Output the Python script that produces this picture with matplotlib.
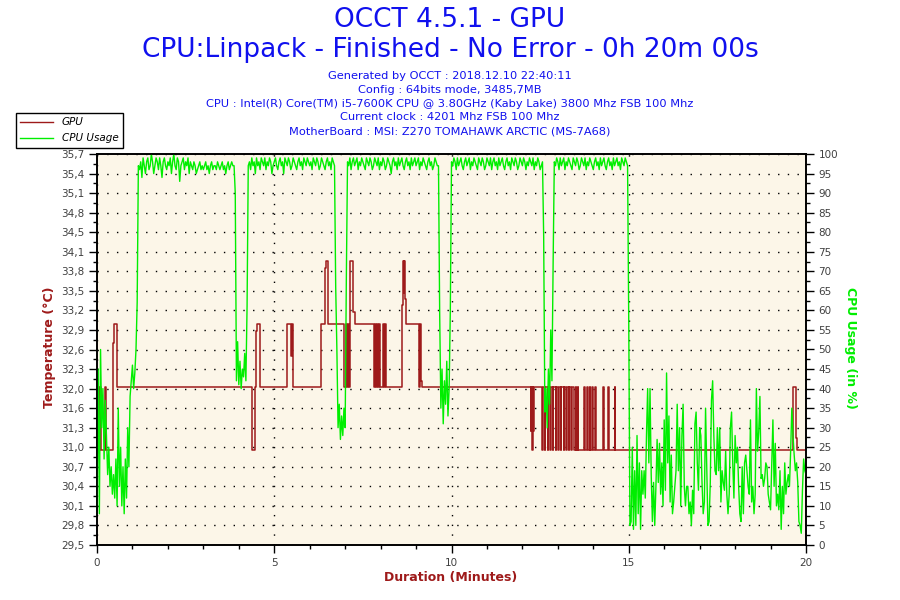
import numpy as np
import matplotlib.pyplot as plt
from matplotlib.ticker import FixedLocator, MultipleLocator
from matplotlib.lines import Line2D

# sondas do OCCT: GPU (temperatura) e uso da CPU, 20 minutos
title_main = "OCCT 4.5.1 - GPU"
title_sub = "CPU:Linpack - Finished - No Error - 0h 20m 00s"
info_lines = [
    "Generated by OCCT : 2018.12.10 22:40:11",
    "Config : 64bits mode, 3485,7MB",
    "CPU : Intel(R) Core(TM) i5-7600K CPU @ 3.80GHz (Kaby Lake) 3800 Mhz FSB 100 Mhz",
    "Current clock : 4201 Mhz FSB 100 Mhz",
    "MotherBoard : MSI: Z270 TOMAHAWK ARCTIC (MS-7A68)",
]

x_ticks = [0, 5, 10, 15, 20]
temp_labels = ["29,5", "29,8", "30,1", "30,4", "30,7", "31,0", "31,3", "31,6", "32,0", "32,3",
               "32,6", "32,9", "33,2", "33,5", "33,8", "34,1", "34,5", "34,8", "35,1", "35,4", "35,7"]
usage_ticks = list(range(0, 101, 5))

# temperatura da GPU: (minuto, valor) a cada mudanca de patamar
gpu_changes = [
    (0.00, 32), (0.05, 31), (0.08, 32), (0.10, 31), (0.22, 32), (0.25, 31),
    (0.44, 32.7), (0.49, 33), (0.56, 32),
    (4.38, 31), (4.45, 32), (4.48, 32.9), (4.50, 33), (4.60, 32),
    (5.37, 33), (5.47, 32.5), (5.50, 33), (5.53, 32),
    (6.33, 33), (6.42, 33.9), (6.45, 34), (6.51, 33.5), (6.53, 33),
    (6.98, 32), (7.02, 33), (7.05, 32), (7.09, 33), (7.11, 32), (7.14, 34), (7.23, 33.2), (7.27, 33),
    (7.80, 32), (7.83, 33), (7.86, 32), (7.89, 33), (7.92, 32), (7.95, 33), (7.98, 32),
    (8.08, 33), (8.11, 32), (8.13, 33), (8.15, 32),
    (8.61, 33.3), (8.64, 34), (8.66, 33.5), (8.67, 34), (8.69, 33.4), (8.72, 33),
    (9.07, 32), (9.10, 33), (9.13, 32.1), (9.16, 32),
    (12.23, 31.3), (12.25, 32), (12.27, 31), (12.29, 32), (12.31, 31.3), (12.33, 32),
    (12.56, 31), (12.575, 32), (12.635, 31), (12.65, 32), (12.71, 31), (12.725, 32),
    (12.785, 31), (12.80, 32), (12.86, 31), (12.875, 32), (12.935, 31), (12.95, 32),
    (13.01, 31), (13.025, 32), (13.085, 31), (13.10, 32), (13.16, 31), (13.175, 32),
    (13.235, 31), (13.25, 32), (13.31, 31), (13.325, 32), (13.385, 31), (13.40, 32),
    (13.45, 31),
    (13.50, 32), (13.515, 31), (13.56, 32), (13.575, 31),
    (13.75, 32), (13.765, 31), (13.825, 32), (13.84, 31), (13.90, 32), (13.915, 31),
    (13.975, 32), (13.99, 31), (14.05, 32), (14.065, 31),
    (14.28, 32), (14.295, 31), (14.42, 32), (14.435, 31), (14.60, 32), (14.62, 31),
    (19.62, 32), (19.71, 31.5), (19.73, 31.2), (19.75, 31), (20.00, 31),
]

# uso da CPU (%), uma leitura a cada 2 s (30 por minuto)
cpu_usage = [
    # 0
    10, 45, 8, 50, 30, 40, 22, 37, 28, 18,
    25, 15, 20, 13, 18, 12, 22, 10, 35, 15,
    25, 10, 20, 8, 22, 12, 30, 20, 38, 42,
    # 1
    46, 40, 44, 50, 62, 97, 96, 98, 94, 99,
    97, 95, 98, 99, 96, 97, 100, 98, 95, 97,
    99, 98, 96, 99, 97, 94, 98, 99, 97, 96,
    # 2
    98, 97, 99, 95, 98, 100, 97, 96, 99, 98,
    93, 97, 98, 99, 96, 98, 97, 99, 95, 98,
    97, 96, 98, 97, 95, 96, 97, 98, 96, 97,
    # 3
    96, 97, 98, 96, 97, 95, 97, 98, 96, 97,
    97, 96, 98, 97, 96, 97, 98, 96, 97, 95,
    97, 98, 96, 97, 98, 97, 97, 90, 42, 52,
    # 4
    41, 47, 40, 45, 43, 49, 42, 61, 97, 98,
    96, 99, 97, 98, 95, 99, 97, 98, 96, 99,
    98, 97, 99, 96, 98, 97, 99, 98, 95, 97,
    # 5
    98, 99, 97, 96, 98, 99, 97, 98, 95, 99,
    98, 97, 99, 98, 96, 97, 99, 98, 97, 96,
    98, 99, 97, 98, 96, 99, 98, 97, 99, 98,
    # 6
    97, 98, 96, 99, 98, 97, 99, 98, 96, 97,
    99, 98, 97, 96, 98, 99, 97, 98, 96, 99,
    98, 97, 66, 50, 30, 36, 27, 33, 28, 35,
    # 7
    30, 68, 98, 97, 99, 96, 98, 99, 97, 98,
    99, 96, 98, 97, 99, 98, 97, 96, 99, 98,
    97, 99, 98, 96, 97, 99, 98, 97, 99, 96,
    # 8
    98, 97, 99, 98, 96, 97, 99, 98, 97, 95,
    98, 99, 97, 98, 96, 99, 97, 98, 99, 97,
    96, 98, 99, 97, 98, 96, 99, 97, 98, 99,
    # 9
    97, 98, 99, 96, 98, 97, 99, 98, 97, 96,
    98, 99, 97, 98, 96, 97, 99, 98, 97, 97,
    59, 35, 45, 31, 42, 36, 47, 33, 40, 60,
    # 10
    98, 97, 99, 98, 96, 99, 97, 98, 99, 97,
    96, 98, 99, 97, 98, 99, 96, 98, 97, 99,
    98, 97, 96, 99, 98, 97, 99, 98, 96, 97,
    # 11
    99, 98, 97, 99, 96, 98, 99, 97, 98, 96,
    99, 97, 98, 99, 97, 96, 98, 99, 97, 98,
    96, 99, 98, 97, 99, 98, 96, 97, 99, 98,
    # 12
    97, 99, 98, 96, 98, 97, 99, 98, 97, 99,
    96, 98, 97, 99, 98, 96, 97, 98, 79, 34,
    40, 30, 45, 36, 55, 42, 72, 98, 97, 99,
    # 13
    98, 96, 99, 97, 98, 99, 96, 98, 97, 99,
    98, 97, 96, 99, 98, 97, 99, 98, 96, 97,
    99, 98, 97, 99, 96, 98, 97, 99, 98, 97,
    # 14
    96, 98, 99, 97, 98, 96, 99, 97, 98, 99,
    97, 96, 98, 99, 97, 98, 96, 99, 97, 98,
    99, 97, 98, 96, 99, 98, 97, 99, 98, 97,
    # 15
    57, 5, 6, 25, 4, 19, 5, 28, 8, 21,
    4, 19, 13, 19, 12, 28, 40, 21, 40, 18,
    6, 16, 5, 15, 27, 16, 26, 13, 21, 10,
    # 16
    32, 14, 44, 21, 33, 11, 23, 8, 11, 15,
    19, 36, 19, 30, 10, 28, 36, 15, 10, 15,
    15, 8, 11, 5, 14, 8, 31, 34, 21, 14,
    # 17
    30, 28, 16, 8, 11, 35, 20, 5, 6, 16,
    37, 42, 28, 19, 18, 30, 19, 30, 11, 19,
    16, 14, 24, 13, 8, 13, 30, 34, 21, 12,
    # 18
    28, 21, 25, 15, 8, 6, 20, 8, 21, 23,
    19, 15, 13, 32, 11, 15, 8, 13, 40, 24,
    29, 38, 17, 18, 15, 17, 21, 20, 13, 11,
    # 19
    9, 21, 32, 15, 26, 10, 13, 9, 19, 4,
    15, 8, 21, 13, 16, 18, 15, 24, 35, 28,
    23, 19, 21, 16, 6, 5, 3, 14, 22, 19,
    18,
]

cor_gpu = "#9e1a1a"
cor_cpu = "#00ee00"
cor_fundo = "#fcf6e8"
azul = "#1010ee"

gpu_time, gpu_temp = zip(*gpu_changes)
cpu_time = np.linspace(0, 20, len(cpu_usage))

fig = plt.figure(figsize=(9, 6), dpi=100)
ax = fig.add_axes([97 / 900, 55 / 600, 709 / 900, 391 / 600])
ax.set_facecolor(cor_fundo)
ax2 = ax.twinx()

ax.plot(gpu_time, gpu_temp, drawstyle="steps-post", color=cor_gpu, lw=1.1)
ax2.plot(cpu_time, cpu_usage, color=cor_cpu, lw=1.0)

ax.set_xlim(0, 20)
ax.set_ylim(29.5, 35.7)
ax2.set_ylim(0, 100)

temp_pos = np.linspace(29.5, 35.7, len(temp_labels))
ax.yaxis.set_major_locator(FixedLocator(temp_pos))
ax.set_yticklabels(temp_labels)
ax.yaxis.set_minor_locator(FixedLocator((temp_pos[:-1] + temp_pos[1:]) / 2))
ax.xaxis.set_major_locator(FixedLocator(x_ticks))
ax.xaxis.set_minor_locator(MultipleLocator(1))
ax2.yaxis.set_major_locator(FixedLocator(usage_ticks))
ax2.yaxis.set_minor_locator(MultipleLocator(2.5))

for a in (ax, ax2):
    a.tick_params(which="major", direction="out", length=6, width=1, labelsize=7.5,
                  labelcolor="#404040", pad=3)
    a.tick_params(which="minor", direction="out", length=3, width=1)
    for s in a.spines.values():
        s.set_linewidth(1.2)

ax.set_axisbelow(True)
ax.grid(True, which="major", color="black", linestyle=(0, (1, 6)), linewidth=1.0)

fig.text(0.5, 1 - 20 / 600, title_main, ha="center", va="center", fontsize=19, color=azul)
fig.text(0.5, 1 - 50 / 600, title_sub, ha="center", va="center", fontsize=19, color=azul)
for i, linha in enumerate(info_lines):
    fig.text(0.5, 1 - (76 + i * 13.8) / 600, linha, ha="center", va="center", fontsize=8.2, color=azul)

fig.text(50 / 900, 1 - 347 / 600, "Temperature (°C)", rotation=90, ha="center", va="center",
         fontsize=9, fontweight="bold", color=cor_gpu)
fig.text(851 / 900, 1 - 348 / 600, "CPU Usage (in %)", rotation=270, ha="center", va="center",
         fontsize=9, fontweight="bold", color=cor_cpu)
fig.text(451 / 900, 1 - 578 / 600, "Duration (Minutes)", ha="center", va="center",
         fontsize=9, fontweight="bold", color=cor_gpu)

handles = [Line2D([], [], color=cor_gpu, lw=1), Line2D([], [], color=cor_cpu, lw=1)]
leg = fig.legend(handles, ["GPU", "CPU Usage"], loc="upper left", bbox_to_anchor=(16 / 900, 1 - 113 / 600),
                 fancybox=False, edgecolor="black", framealpha=1, fontsize=7.5, handlelength=3.2,
                 borderpad=0.4, labelspacing=0.6, handletextpad=0.8, borderaxespad=0)
leg.get_frame().set_linewidth(1.0)
for t in leg.get_texts():
    t.set_fontstyle("italic")

plt.savefig("out.png", dpi=100)
